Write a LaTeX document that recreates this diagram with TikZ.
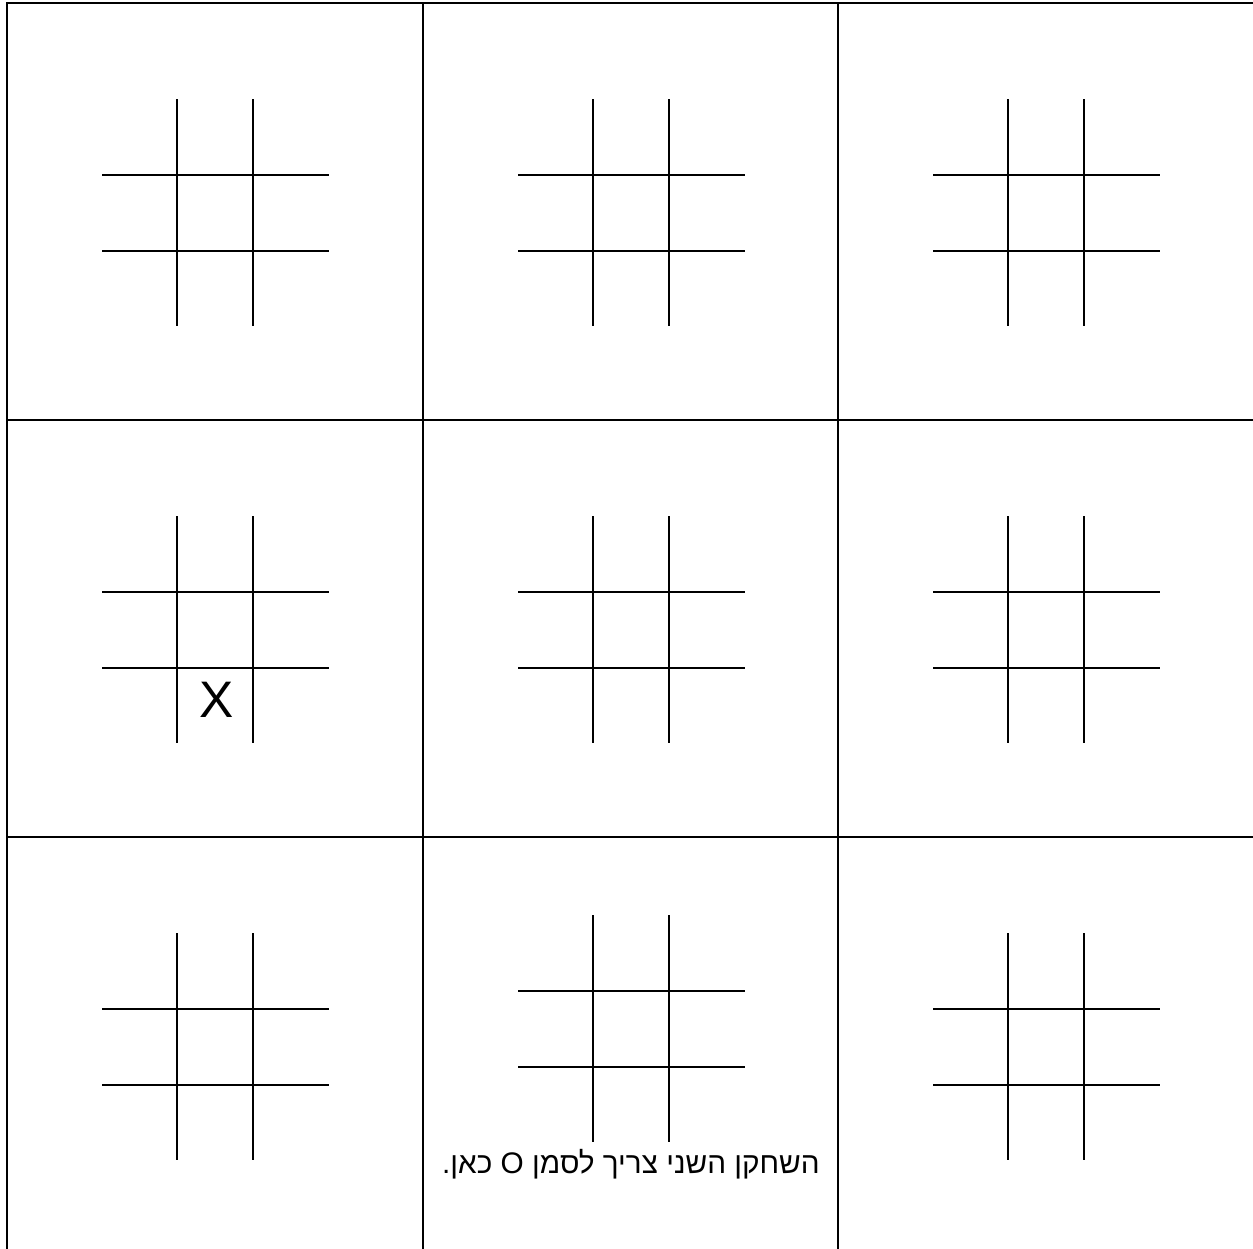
\documentclass[tikz,border=0pt]{standalone}
\usepackage{fontspec}
\setmainfont{Liberation Sans}
\newfontfamily\hebfont[Script=Hebrew]{Liberation Sans}
\TeXXeTstate=1
\begin{document}
\begin{tikzpicture}[x=0.75pt,y=-0.75pt,
  frame/.style={line width=1.6pt,line cap=rect},
  gridline/.style={line width=1.05pt}]
\useasboundingbox (0,0) rectangle (1253,1249);
% outer frame and dividers
\draw[frame] (7,3) -- (1253,3);
\draw[frame] (7,3) -- (7,1249);
\draw[frame] (7,420) -- (1253,420);
\draw[frame] (7,837) -- (1253,837);
\draw[frame] (423,3) -- (423,1249);
\draw[frame] (838,3) -- (838,1249);
% small boards
\foreach \ox/\oy in {0/0,416/0,831/0,0/417,416/417,831/417,0/834,831/834,416/816}{
  \begin{scope}[shift={(\ox,\oy)}]
    \draw[gridline] (177,99) -- (177,326);
    \draw[gridline] (253,99) -- (253,326);
    \draw[gridline] (102,175) -- (329,175);
    \draw[gridline] (102,251) -- (329,251);
  \end{scope}
}
\node[anchor=base,inner sep=0pt,font=\fontsize{38.5}{40}\selectfont] (xmark) at (216.5,717) {X};
\node[anchor=base east,inner sep=0pt,font=\fontsize{22.3}{26}\selectfont] (msg) at (820,1173)
  {\hebfont\beginR השחקן השני צריך לסמן O כאן.\endR};
\end{tikzpicture}
\end{document}
